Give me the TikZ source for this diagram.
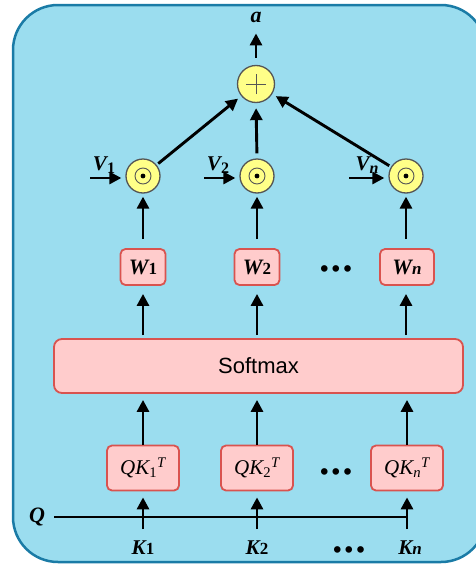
\documentclass[tikz,border=0pt]{standalone}
\usepackage{fontspec}
\setmainfont{Liberation Serif}
\setsansfont{Liberation Sans}
\usetikzlibrary{arrows.meta}
\definecolor{bgblue}{HTML}{9BDDEF}
\definecolor{bdblue}{HTML}{1A7BA6}
\definecolor{pinkf}{HTML}{FFCCCC}
\definecolor{redb}{HTML}{D9534F}
\definecolor{yel}{HTML}{FFFF88}
\definecolor{cgray}{HTML}{555555}
\newcommand\BI[3]{{\fontsize{#1}{#1}\selectfont\bfseries\itshape #2}{\fontsize{17}{17}\selectfont\bfseries #3}}
\newcommand\VL[2]{{\fontsize{21}{21}\selectfont\bfseries\itshape #1}\raisebox{-3pt}{\fontsize{16}{16}\selectfont\bfseries #2}}
\newcommand\QKL[1]{{\fontsize{21}{21}\selectfont\itshape QK\textsubscript{\upshape #1}\textsuperscript{\itshape T}}}
\begin{document}
\begin{tikzpicture}[x=1pt,y=-1pt,
 arr/.style={line width=2.9pt,-{Triangle[length=12pt,width=12pt]}},
 ln/.style={line width=2.9pt},
 box/.style={draw=redb,fill=pinkf,line width=1.8pt,rounded corners=5pt,inner sep=0pt},
 odot/.style={circle,draw=cgray,fill=yel,line width=1.3pt,minimum size=34pt,inner sep=0pt,
   path picture={\draw[cgray,line width=0.9pt] (path picture bounding box.center) circle[radius=8pt];
                 \fill[black] (path picture bounding box.center) circle[radius=2.4pt];}},
 plusc/.style={circle,draw=cgray,fill=yel,line width=1.3pt,minimum size=37pt,inner sep=0pt,
   path picture={\draw[cgray,line width=0.9pt] ([xshift=-10pt]path picture bounding box.center) -- ([xshift=10pt]path picture bounding box.center)
                   ([yshift=-10pt]path picture bounding box.center) -- ([yshift=10pt]path picture bounding box.center);}},
 lab/.style={inner sep=0pt},
 dots/.style={inner sep=0pt,font=\fontsize{23}{23}\selectfont\sffamily\bfseries},
]
\useasboundingbox (0,0) rectangle (476,565);
\draw[bdblue,fill=bgblue,line width=2.5pt,rounded corners=45pt] (13,5) rectangle (486,562);

% top
\node[lab,anchor=base] (a) at (256,22) {{\fontsize{22}{22}\selectfont\bfseries\itshape a}};
\node[plusc] (plus) at (256,84) {};
\node[odot] (o1) at (143,176) {};
\node[odot] (o2) at (257,176) {};
\node[odot] (on) at (406,176) {};

\draw[arr,shorten <=7pt,shorten >=11pt] (plus.north) -- (a.south);
\draw[arr,shorten <=2pt,shorten >=4pt] (o1) -- (plus);
\draw[arr,shorten <=5pt,shorten >=5pt] (o2.north) -- (plus.south);
\draw[arr,shorten <=2pt,shorten >=4pt] (on) -- (plus);

% V inputs
\node[lab] (v1) at (104,165) {\VL{V}{1}};
\node[lab] (v2) at (218,165) {\VL{V}{2}};
\node[lab] (vn) at (367,165) {\VL{V}{\itshape n}};
\coordinate (v1s) at (90,178);
\coordinate (v2s) at (204,178);
\coordinate (vns) at (349,178);
\draw[arr,shorten >=4pt] (v1s) -- (v1s -| o1.west);
\draw[arr,shorten >=4pt] (v2s) -- (v2s -| o2.west);
\draw[arr,shorten >=4pt] (vns) -- (vns -| on.west);

% W boxes
\node[box,minimum width=45pt,minimum height=36pt] (w1) at (143,267) {\BI{22}{W}{1}};
\node[box,minimum width=45pt,minimum height=36pt] (w2) at (257,267) {\BI{22}{W}{2}};
\node[box,minimum width=54pt,minimum height=36pt] (wn) at (407,267) {\BI{22}{W}{\itshape n}};
\node[dots] (d1) at (336,271) {•\hspace{3.5pt}•\hspace{3.5pt}•};

\draw[arr,shorten <=9pt,shorten >=3pt] (w1.north) -- (o1.south);
\draw[arr,shorten <=9pt,shorten >=3pt] (w2.north) -- (o2.south);
\draw[arr,shorten <=9pt,shorten >=3pt] (wn.north -| on) -- (on.south);

% softmax
\node[box,rounded corners=8pt,minimum width=409pt,minimum height=54pt,font=\fontsize{22}{22}\selectfont\sffamily] (soft) at (258.5,366) {Softmax};
\draw[arr,shorten <=3pt,shorten >=8pt] (soft.north -| w1) -- (w1.south);
\draw[arr,shorten <=3pt,shorten >=8pt] (soft.north -| w2) -- (w2.south);
\draw[arr,shorten <=3pt,shorten >=8pt] (soft.north -| on) -- (wn.south -| on);

% QK boxes
\node[box,minimum width=72pt,minimum height=45pt] (q1) at (143,468) {\QKL{1}};
\node[box,minimum width=72pt,minimum height=45pt] (q2) at (257,468) {\QKL{2}};
\node[box,minimum width=72pt,minimum height=45pt] (qn) at (407,468) {\QKL{\itshape n}};
\node[dots] (d2) at (336,474) {•\hspace{3.5pt}•\hspace{3.5pt}•};

\draw[arr,shorten >=6pt] (q1.north) -- (soft.south -| q1);
\draw[arr,shorten >=6pt] (q2.north) -- (soft.south -| q2);
\draw[arr,shorten >=6pt] (qn.north) -- (soft.south -| qn);

% K inputs
\node[lab] (k1) at (143,548) {\BI{21}{K}{1}};
\node[lab] (k2) at (257,548) {\BI{21}{K}{2}};
\node[lab] (kn) at (410,548) {\BI{21}{K}{\itshape n}};
\node[dots] (d3) at (349,552) {•\hspace{3.5pt}•\hspace{3.5pt}•};
\coordinate (k1t) at (143,529);
\coordinate (k2t) at (257,529);
\coordinate (knt) at (407,529);
\draw[arr,shorten >=6pt] (k1t) -- (q1.south);
\draw[arr,shorten >=6pt] (k2t) -- (q2.south);
\draw[arr,shorten >=6pt] (knt) -- (qn.south);

% Q
\node[lab] (q) at (37,517) {{\fontsize{22}{22}\selectfont\bfseries\itshape Q}};
\draw[ln,shorten <=9pt] (q.east) -- (q.east -| knt);
\end{tikzpicture}
\end{document}
